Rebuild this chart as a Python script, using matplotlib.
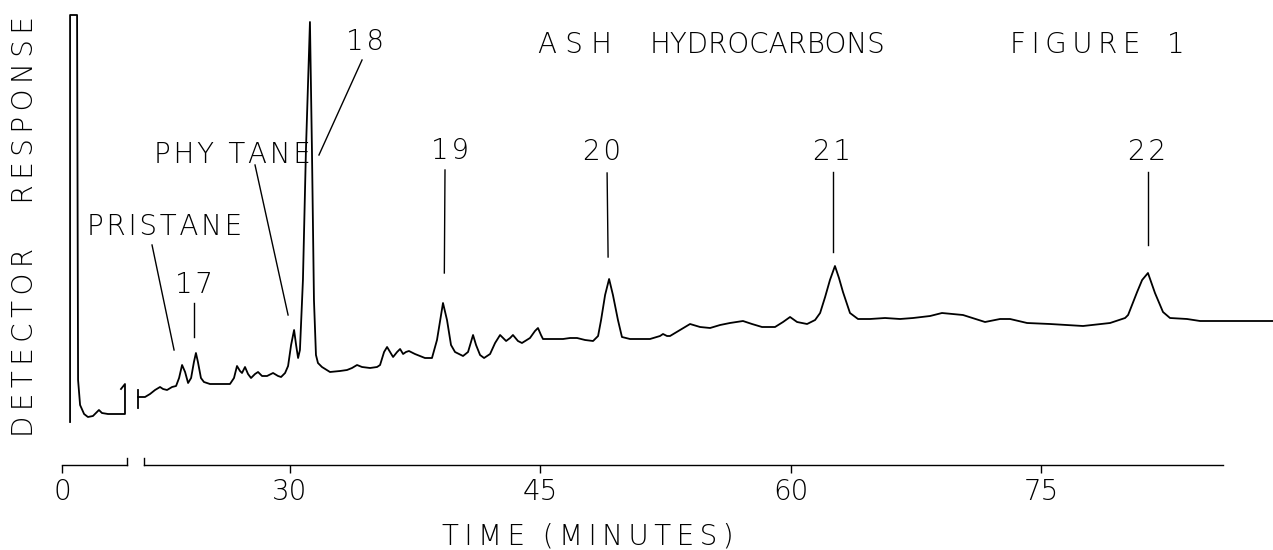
import matplotlib
matplotlib.use('Agg')
import matplotlib.pyplot as plt

# chromatogram: time in minutes, response in chart units above the time axis
solvent_t = [16.83, 16.83, 17.25, 17.31, 17.43, 17.67, 17.90, 18.20, 18.44, 18.56, 18.74, 19.10,
             20.12, 20.12, 19.88]
solvent_r = [43, 450, 450, 85, 60, 51, 48, 49, 53, 55, 52, 51,
             51, 81, 76]

trace_t = [20.90, 21.32, 21.62, 21.92, 22.22, 22.40, 22.64, 22.94, 23.18, 23.36, 23.54, 23.72,
           23.90, 24.08, 24.25, 24.37, 24.49, 24.67, 24.85, 25.21, 25.81, 26.41, 26.65, 26.83,
           27.01, 27.13, 27.31, 27.49, 27.67, 27.91, 28.09, 28.33, 28.63, 28.99, 29.29, 29.47,
           29.71, 29.89, 30.07, 30.25, 30.37, 30.49, 30.60, 30.78, 30.96, 31.20, 31.32, 31.44,
           31.56, 31.68, 31.92, 32.40, 33.00, 33.42, 33.72, 34.02, 34.32, 34.80, 35.22, 35.40,
           35.64, 35.82, 36.00, 36.18, 36.42, 36.60, 36.78, 36.95, 37.13, 37.49, 38.09, 38.51,
           38.81, 39.17, 39.41, 39.65, 39.89, 40.37, 40.67, 40.97, 41.15, 41.39, 41.63, 41.99,
           42.29, 42.59, 42.95, 43.19, 43.36, 43.66, 43.90, 44.38, 44.68, 44.86, 45.04, 45.16,
           45.88, 46.36, 46.78, 47.20, 47.68, 48.16, 48.46, 48.64, 48.88, 49.12, 49.35, 49.65,
           49.89, 50.37, 51.57, 52.17, 52.35, 52.59, 52.77, 53.37, 53.97, 54.57, 55.17, 55.77,
           56.36, 57.14, 57.68, 58.28, 59.06, 59.54, 59.96, 60.38, 60.98, 61.46, 61.76, 62.06,
           62.35, 62.65, 62.89, 63.13, 63.55, 64.03, 64.75, 65.65, 66.55, 67.33, 68.35, 69.06,
           70.32, 71.64, 72.54, 73.14, 74.16, 75.53, 77.51, 79.13, 80.03, 80.21, 80.75, 81.05,
           81.40, 81.82, 82.30, 82.72, 83.74, 84.52, 86.50, 88.89]
trace_r = [68, 68, 71, 75, 78, 76, 75, 78, 79, 87, 100, 93,
           82, 87, 103, 112, 103, 87, 83, 81, 81, 81, 87, 99,
           94, 92, 98, 91, 87, 91, 93, 89, 89, 92, 89, 88,
           92, 99, 120, 135, 120, 107, 115, 185, 315, 443, 315, 165,
           110, 102, 98, 93, 94, 95, 97, 100, 98, 97, 98, 100,
           113, 118, 113, 108, 113, 116, 111, 113, 114, 111, 107, 107,
           125, 162, 145, 120, 113, 109, 113, 130, 120, 110, 107, 111,
           122, 130, 124, 127, 130, 124, 122, 127, 134, 137, 130, 126,
           126, 126, 127, 127, 125, 124, 129, 145, 170, 186, 170, 145,
           128, 126, 126, 129, 131, 129, 129, 135, 141, 138, 137, 140,
           142, 144, 141, 138, 138, 143, 148, 143, 141, 145, 152, 168,
           185, 199, 187, 173, 152, 146, 146, 147, 146, 147, 149, 152,
           150, 143, 146, 146, 142, 141, 139, 142, 147, 150, 173, 185,
           192, 172, 153, 147, 146, 144, 144, 144]

# pen marks at the chart break
break_t = [20.90, 20.90]
break_r = [57, 75]

# time axis
tick_pos = [16.35, 30, 45, 60, 75]
tick_labels = ['0', '30', '45', '60', '75']
axis_left = [16.35, 20.24]
axis_right = [21.26, 85.90]

# peak labels and their leader lines
labels = ['PRISTANE', '17', 'PHY TANE', '18', '19', '20', '21', '22']
label_t = [22.52, 24.25, 26.55, 34.50, 39.59, 48.70, 62.47, 81.34]
label_r = [238, 180, 310, 423, 314, 313, 313, 313]
lead_t0 = [21.74, 24.25, 27.91, 34.32, 39.29, 49.00, 62.53, 81.40]
lead_r0 = [220, 162, 300, 405, 295, 292, 293, 293]
lead_t1 = [23.06, 24.25, 29.89, 31.74, 39.25, 49.06, 62.53, 81.40]
lead_r1 = [115, 128, 150, 310, 192, 208, 213, 220]


def spaced(s, n=1):
    # stencil lettering is set wide: put hair spaces between letters
    return ('\u200a' * n).join(s)


font = dict(family='DejaVu Sans', fontweight=200, fontsize=20, color='black')

fig = plt.figure(figsize=(12.73, 5.5), dpi=100)
ax = fig.add_axes([0, 85 / 550, 1, 465 / 550])
ax.set_xlim(12.633, 88.89)
ax.set_ylim(0, 465)

ax.plot(solvent_t, solvent_r, color='black', lw=1.3, clip_on=False)
ax.plot(trace_t, trace_r, color='black', lw=1.3, clip_on=False)
ax.plot(break_t, break_r, color='black', lw=1.3)

for i in range(len(labels)):
    ax.plot([lead_t0[i], lead_t1[i]], [lead_r0[i], lead_r1[i]], color='black', lw=1.0)
    ax.text(label_t[i], label_r[i], spaced(labels[i]), ha='center', va='center', **font)

ax.text(44.86, 420, spaced('ASH', 3), ha='left', va='center', **font)
ax.text(51.57, 420, 'HYDROCARBONS', ha='left', va='center', **font)
ax.text(73.14, 420, spaced('FIGURE', 2) + '   1', ha='left', va='center', **font)
ax.text(14.13, 238, spaced('DETECTOR', 2) + '     ' + spaced('RESPONSE', 2),
        rotation=90, ha='center', va='center', **font)
ax.text(47.85, -71, spaced('TIME', 2) + '  ' + spaced('(MINUTES)', 2),
        ha='center', va='center', clip_on=False, **font)

for s in ['top', 'right', 'left']:
    ax.spines[s].set_visible(False)
ax.spines['bottom'].set_bounds(axis_right[0], axis_right[1])
ax.spines['bottom'].set_linewidth(1.0)
ax.plot(axis_left, [0, 0], color='black', lw=1.0, clip_on=False)
ax.plot([axis_left[1], axis_left[1]], [0, 7], color='black', lw=1.0, clip_on=False)
ax.plot([axis_right[0], axis_right[0]], [0, 7], color='black', lw=1.0, clip_on=False)

ax.set_yticks([])
ax.set_xticks(tick_pos, tick_labels)
ax.tick_params(axis='x', direction='out', length=6, width=1.0, pad=3)
for lab in ax.get_xticklabels():
    lab.set_fontfamily('DejaVu Sans')
    lab.set_fontweight(200)
    lab.set_fontsize(20)

fig.savefig('out.png', dpi=100)
